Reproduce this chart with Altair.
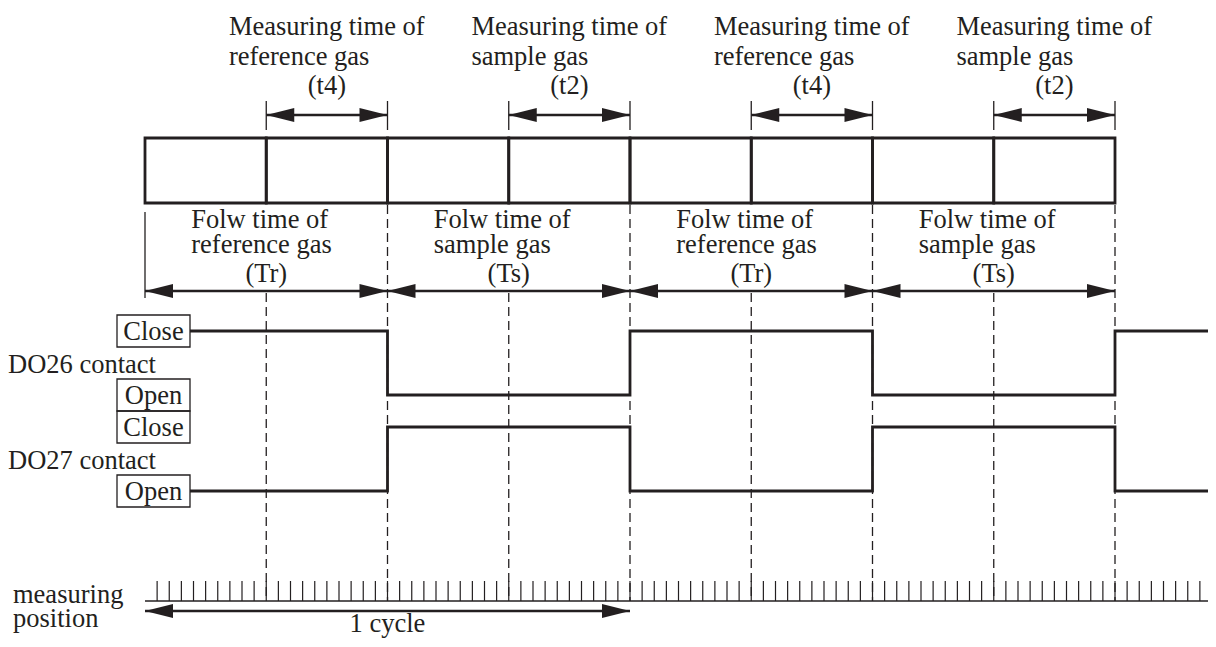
import altair as alt
import pandas as pd

# ---------------- data ----------------
BOUNDS = [0, 1, 2, 3, 4, 5, 6, 7, 8]            # phase boundaries (units of half a flow period)
FLOW_GAS = ["reference gas", "sample gas", "reference gas", "sample gas"]
FLOW_CODE = ["(Tr)", "(Ts)", "(Tr)", "(Ts)"]
MEAS_CODE = ["(t4)", "(t2)", "(t4)", "(t2)"]
SWITCH_TIMES = [2, 4, 6, 8]
DO26_STATES = ["Close", "Open", "Close", "Open", "Close"]
DO27_STATES = ["Open", "Close", "Open", "Close", "Open"]
TICK_STEP = 0.1
CYCLE = [0, 4]

# ---------------- layout ----------------
INK = "#231f20"
FONT = "Liberation Serif"
FS = 26.5
W, H = 1200, 631
PX_PER_UNIT = 121.25
X0_PAGE = 145
XDOM = [(8 - X0_PAGE) / PX_PER_UNIT, (8 + W - X0_PAGE) / PX_PER_UNIT]
YDOM = [8, 8 + H]
SIG_START = (190 - X0_PAGE) / PX_PER_UNIT
LBL_BOX = [(117 - X0_PAGE) / PX_PER_UNIT, (190 - X0_PAGE) / PX_PER_UNIT]
LEFT_TXT = (8 - X0_PAGE) / PX_PER_UNIT
MEASPOS_TXT = (13 - X0_PAGE) / PX_PER_UNIT

Y = dict(meas1=35, meas2=65, meas3=94, marrow=115, mbar=(101, 130), box=(138, 203),
         flow1=228, flow2=253, flow3=282, farrow=291, fbar=(212, 298),
         dash_long=(205, 601), dash_short=(293, 601),
         tick=(581, 601), cycle=611, cycle_txt=632, mp1=603, mp2=627,
         do26_lbl=373, do27_lbl=469)
LEVEL = {"DO26": {"Close": 331, "Open": 395}, "DO27": {"Close": 427, "Open": 491}}
LBL_BOXES = [("DO26", "Close", 315, 347), ("DO26", "Open", 379, 411),
             ("DO27", "Close", 411, 443), ("DO27", "Open", 475, 507)]

HEAD_R = "M0,0L-2,-0.5L-2,0.5Z"
HEAD_L = "M0,0L2,-0.5L2,0.5Z"
HEAD_SIZE = 784

xs = alt.Scale(domain=XDOM, nice=False, zero=False)
ys = alt.Scale(domain=YDOM, reverse=True, nice=False, zero=False)


def X(f="x"):
    return alt.X(f"{f}:Q", scale=xs, axis=None)


def Yc(f="y"):
    return alt.Y(f"{f}:Q", scale=ys, axis=None)


def rules(df, width=1.3, dash=None):
    kw = dict(color=INK, strokeWidth=width)
    if dash:
        kw["strokeDash"] = dash
    enc = dict(x=X(), y=Yc())
    if "x2" in df.columns:
        enc["x2"] = alt.X2("x2:Q")
    if "y2" in df.columns:
        enc["y2"] = alt.Y2("y2:Q")
    return alt.Chart(df).mark_rule(**kw).encode(**enc)


def heads(df, path):
    return alt.Chart(df).mark_point(shape=path, size=HEAD_SIZE, filled=True, fill=INK,
                                    opacity=1, strokeWidth=0).encode(x=X(), y=Yc())


def texts(df, align="center", dx=0):
    return alt.Chart(df).mark_text(font=FONT, fontSize=FS, color=INK, align=align,
                                   baseline="alphabetic", dx=dx).encode(
        x=X(), y=Yc(), text="t:N")


layers = []

# segment boxes
box_df = pd.DataFrame({"x": BOUNDS[:-1], "x2": BOUNDS[1:], "y": Y["box"][0], "y2": Y["box"][1]})
layers.append(alt.Chart(box_df).mark_rect(filled=False, stroke=INK, strokeWidth=2.8).encode(
    x=X(), x2="x2:Q", y=Yc(), y2="y2:Q"))

# dashed guide lines: flow boundaries start under the boxes, mid lines under the flow arrows
flow_bounds = BOUNDS[2::2]
mid_bounds = BOUNDS[1::2]
layers.append(rules(pd.DataFrame({"x": flow_bounds, "y": Y["dash_long"][0], "y2": Y["dash_long"][1]}),
                    1.3, [9, 5]))
layers.append(rules(pd.DataFrame({"x": mid_bounds, "y": Y["dash_short"][0], "y2": Y["dash_short"][1]}),
                    1.3, [9, 5]))

# measuring-time arrows
m_start = [BOUNDS[2 * k + 1] for k in range(4)]
m_end = [BOUNDS[2 * k + 2] for k in range(4)]
layers.append(rules(pd.DataFrame({"x": m_start, "x2": m_end, "y": Y["marrow"]}), 2.5))
layers.append(rules(pd.DataFrame({"x": m_start + m_end, "y": Y["mbar"][0], "y2": Y["mbar"][1]}), 1.3))
layers.append(heads(pd.DataFrame({"x": m_start, "y": Y["marrow"]}), HEAD_L))
layers.append(heads(pd.DataFrame({"x": m_end, "y": Y["marrow"]}), HEAD_R))

# flow-time arrows
f_start = [BOUNDS[2 * k] for k in range(4)]
f_end = [BOUNDS[2 * k + 2] for k in range(4)]
layers.append(rules(pd.DataFrame({"x": f_start, "x2": f_end, "y": Y["farrow"]}), 2.5))
layers.append(rules(pd.DataFrame({"x": [BOUNDS[0]], "y": Y["fbar"][0], "y2": Y["fbar"][1]}), 1.3))
layers.append(heads(pd.DataFrame({"x": f_start, "y": Y["farrow"]}), HEAD_L))
layers.append(heads(pd.DataFrame({"x": f_end, "y": Y["farrow"]}), HEAD_R))

# texts: measuring time
m_mid = [(a + b) / 2 for a, b in zip(m_start, m_end)]
layers.append(texts(pd.DataFrame({"x": m_mid * 2,
                                  "y": [Y["meas1"]] * 4 + [Y["meas2"]] * 4,
                                  "t": ["Measuring time of"] * 4 + FLOW_GAS}), "left", -98))
layers.append(texts(pd.DataFrame({"x": m_mid, "y": Y["meas3"], "t": MEAS_CODE})))

# texts: flow time
f_mid = [(a + b) / 2 for a, b in zip(f_start, f_end)]
layers.append(texts(pd.DataFrame({"x": f_mid * 2,
                                  "y": [Y["flow1"]] * 4 + [Y["flow2"]] * 4,
                                  "t": ["Folw time of"] * 4 + FLOW_GAS}), "left", -75))
layers.append(texts(pd.DataFrame({"x": f_mid, "y": Y["flow3"], "t": FLOW_CODE})))

# contact signals
rows = []
for sig, states in (("DO26", DO26_STATES), ("DO27", DO27_STATES)):
    xs_pts = [SIG_START] + SWITCH_TIMES + [XDOM[1]]
    st = states + [states[-1]]
    for xv, s in zip(xs_pts, st):
        rows.append({"sig": sig, "x": xv, "y": LEVEL[sig][s]})
sig_df = pd.DataFrame(rows)
layers.append(alt.Chart(sig_df).mark_line(interpolate="step-after", color=INK, strokeWidth=2.8).encode(
    x=X(), y=Yc(), detail="sig:N"))

# state label boxes
lb_df = pd.DataFrame({"x": LBL_BOX[0], "x2": LBL_BOX[1],
                      "y": [b[2] for b in LBL_BOXES], "y2": [b[3] for b in LBL_BOXES]})
layers.append(alt.Chart(lb_df).mark_rect(filled=False, stroke=INK, strokeWidth=1.3).encode(
    x=X(), x2="x2:Q", y=Yc(), y2="y2:Q"))
lt_df = pd.DataFrame({"x": (LBL_BOX[0] + LBL_BOX[1]) / 2,
                      "y": [(b[2] + b[3]) / 2 + 9 for b in LBL_BOXES],
                      "t": [b[1] for b in LBL_BOXES]})
layers.append(texts(lt_df))

# signal names + measuring position label
layers.append(texts(pd.DataFrame({"x": LEFT_TXT, "y": [Y["do26_lbl"], Y["do27_lbl"]],
                                  "t": ["DO26 contact", "DO27 contact"]}), "left"))
layers.append(texts(pd.DataFrame({"x": MEASPOS_TXT, "y": [Y["mp1"], Y["mp2"]],
                                  "t": ["measuring", "position"]}), "left"))

# measuring position ticks
n_ticks = int(XDOM[1] / TICK_STEP)
tick_x = [round(i * TICK_STEP, 2) for i in range(1, n_ticks + 1)]
layers.append(rules(pd.DataFrame({"x": tick_x, "y": Y["tick"][0], "y2": Y["tick"][1]}), 1.2))
layers.append(rules(pd.DataFrame({"x": [0], "x2": [XDOM[1]], "y": Y["tick"][1]}), 1.6))

# 1 cycle arrow
layers.append(rules(pd.DataFrame({"x": [CYCLE[0]], "x2": [CYCLE[1]], "y": Y["cycle"]}), 2.5))
layers.append(heads(pd.DataFrame({"x": [CYCLE[0]], "y": Y["cycle"]}), HEAD_L))
layers.append(heads(pd.DataFrame({"x": [CYCLE[1]], "y": Y["cycle"]}), HEAD_R))
layers.append(texts(pd.DataFrame({"x": [(CYCLE[0] + CYCLE[1]) / 2], "y": Y["cycle_txt"], "t": ["1 cycle"]})))

chart = alt.layer(*layers).properties(
    width=W, height=H,
    autosize=alt.AutoSizeParams(type="none"),
    padding=0,
).configure_view(stroke=None)

chart.save("out.html", embed_options={"renderer": "svg", "actions": False})
